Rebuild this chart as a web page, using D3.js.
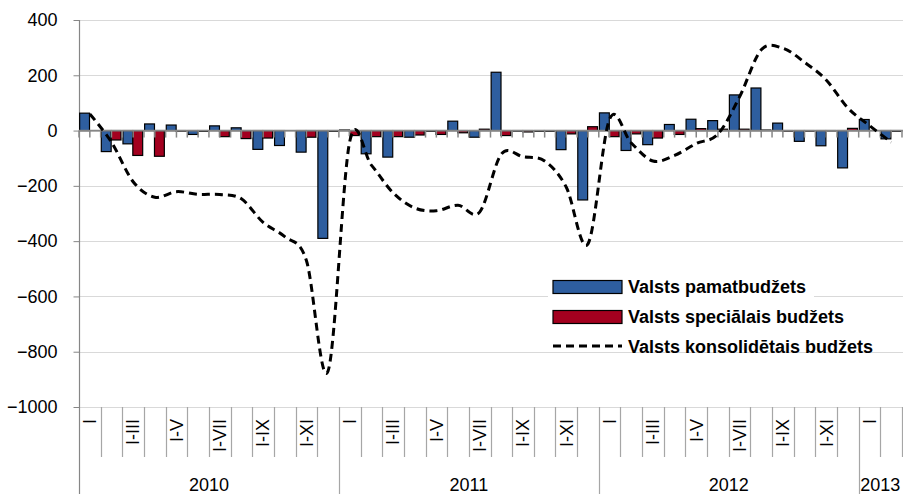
<!DOCTYPE html>
<html>
<head>
<meta charset="utf-8">
<script src="https://cdn.jsdelivr.net/npm/d3@7"></script>
<style>
  html, body { margin: 0; padding: 0; background: #fff; }
  svg { display: block; font-family: "Liberation Sans", Arial, sans-serif; }
</style>
</head>
<body>
<svg></svg>
<script>
//* Budget balance by period, 2010 - 2013 (million LVL)
const yearLabels = ["2010", "2011", "2012", "2013"];
const yearMonths = [12, 12, 12, 2];
const monthLabels = ["I", "", "I-III", "", "I-V", "", "I-VII", "", "I-IX", "", "I-XI", ""];

const seriesNames = ["Valsts pamatbudžets", "Valsts speciālais budžets", "Valsts konsolidētais budžets"];

const basicBudget = [
  63, -76, -48, 24, 20, -14, 17, 10, -68, -54, -78, -390,
  2, -84, -96, -24, -3, 34, -24, 211, -2, -3, -69, -251,
  64, -72, -51, 22, 41, 36, 129, 154, 27, -39, -55, -135,
  40, -30
];

const specialBudget = [
  0, -34, -90, -93, -2, -3, -22, -29, -27, 0, -24, -3,
  -18, -22, -22, -16, -14, -8, 5, -18, -5, -3, -12, 14,
  -22, -12, -27, -14, 7, 5, 5, 2, -2, -2, -1, 8,
  0, -3
];

const consolidatedBudget = [
  60, -42, -185, -241, -221, -231, -231, -247, -332, -384, -470, -870,
  -40, -125, -225, -280, -290, -270, -295, -85, -95, -110, -205, -410,
  42, -45, -110, -90, -47, -13, 122, 292, 298, 247, 183, 82,
  18, -42
];

const yTicks = [400, 200, 0, -200, -400, -600, -800, -1000];

const width = 903;
const height = 494;
const colors = ["#2E5E9F", "#A3001F"];

// build the period list (one entry per month)
const periods = [];
yearLabels.forEach((y, yi) => {
  for (let m = 0; m < yearMonths[yi]; m++) {
    periods.push({ year: y, month: m, label: monthLabels[m] });
  }
});
const idx = periods.map((d, i) => i);

const svg = d3.select("svg")
  .attr("width", width)
  .attr("height", height);

const x = d3.scaleBand()
  .domain(idx)
  .range([79, 902]);

const xs = d3.scaleBand()
  .domain([0, 1])
  .range([x.bandwidth() * 0.03, x.bandwidth() * 0.94]);

const y = d3.scaleLinear()
  .domain([-1000, 400])
  .range([407, 20]);

//* Gridlines
svg.append("g")
  .selectAll("line")
  .data(yTicks)
  .join("line")
    .attr("x1", 79)
    .attr("x2", width)
    .attr("y1", d => Math.round(y(d)) + 0.5)
    .attr("y2", d => Math.round(y(d)) + 0.5)
    .attr("stroke", "#d9d9d9")
    .attr("stroke-width", 1.2);

//* Y axis
const yAxis = svg.append("g")
  .attr("transform", "translate(79.5,0)")
  .call(d3.axisLeft(y).tickValues(yTicks).tickSize(6).tickPadding(16).tickFormat(d3.format("d")));
yAxis.select(".domain").remove();
yAxis.selectAll(".tick line").attr("stroke", "#868686");
yAxis.selectAll("text")
  .attr("font-size", 18)
  .attr("fill", "#000")
  .attr("font-family", "Liberation Sans, Arial, sans-serif");
svg.append("line")
  .attr("x1", 79.5).attr("x2", 79.5)
  .attr("y1", 20).attr("y2", height)
  .attr("stroke", "#868686")
  .attr("stroke-width", 1.2);

//* Bars
const barData = [basicBudget, specialBudget];
barData.forEach((vals, s) => {
  svg.append("g")
    .selectAll("rect")
    .data(vals)
    .join("rect")
      .attr("x", (d, i) => x(i) + xs(s))
      .attr("width", xs.bandwidth())
      .attr("y", d => y(Math.max(0, d)))
      .attr("height", d => Math.abs(y(d) - y(0)))
      .attr("fill", colors[s])
      .attr("stroke", "#000")
      .attr("stroke-width", 1.2);
});

//* Zero axis with ticks at boundaries and centres
const halfTicks = d3.range(0, periods.length * 2 + 1).map(k => 79 + k * x.step() / 2);
svg.append("g")
  .selectAll("line")
  .data(halfTicks)
  .join("line")
    .attr("x1", d => d).attr("x2", d => d)
    .attr("y1", y(0)).attr("y2", y(0) + 7)
    .attr("stroke", "#868686")
    .attr("stroke-width", 1.5);
svg.append("line")
  .attr("x1", 79).attr("x2", width)
  .attr("y1", y(0)).attr("y2", y(0))
  .attr("stroke", "#868686")
  .attr("stroke-width", 1.8);

//* Consolidated line (smoothed, dashed)
const line = d3.line()
  .x((d, i) => x(i) + x.bandwidth() / 2)
  .y(d => y(d))
  .curve(d3.curveCardinal.tension(0));

svg.append("path")
  .datum(consolidatedBudget)
  .attr("d", line)
  .attr("fill", "none")
  .attr("stroke", "#000")
  .attr("stroke-width", 3)
  .attr("stroke-dasharray", "8,5");

//* Category labels: months and years
const catTop = 407;
svg.append("g")
  .selectAll("line")
  .data(d3.range(1, periods.length + 1))
  .join("line")
    .attr("x1", i => Math.round(79 + i * x.step()) + 0.5)
    .attr("x2", i => Math.round(79 + i * x.step()) + 0.5)
    .attr("y1", catTop)
    .attr("y2", i => (i < periods.length && periods[i].month === 0) ? height : 457)
    .attr("stroke", "#a6a6a6")
    .attr("stroke-width", 1.2);

svg.append("g")
  .selectAll("text")
  .data(periods.filter(p => p.label !== ""))
  .join("text")
    .attr("transform", d => `translate(${x(periods.indexOf(d)) + x.bandwidth() / 2}, 419) rotate(-90)`)
    .attr("dy", "0.35em")
    .attr("text-anchor", "end")
    .attr("font-size", 18)
    .text(d => d.label);

let start = 0;
yearLabels.forEach((yl, yi) => {
  const x0 = 79 + start * x.step();
  const x1 = 79 + (start + yearMonths[yi]) * x.step();
  svg.append("text")
    .attr("x", (x0 + x1) / 2)
    .attr("y", 491)
    .attr("text-anchor", "middle")
    .attr("font-size", 18)
    .text(yl);
  start += yearMonths[yi];
});

//* Legend
const legend = svg.append("g");
legend.append("rect")
  .attr("x", 548).attr("y", 273)
  .attr("width", 266).attr("height", 76)
  .attr("fill", "#fff");

const legendRows = [287, 317, 347];
seriesNames.forEach((name, i) => {
  if (i < 2) {
    legend.append("rect")
      .attr("x", 553).attr("y", legendRows[i] - 6.5)
      .attr("width", 69).attr("height", 13)
      .attr("fill", colors[i])
      .attr("stroke", "#000")
      .attr("stroke-width", 1.2);
  } else {
    legend.append("line")
      .attr("x1", 553).attr("x2", 622)
      .attr("y1", legendRows[i] - 1).attr("y2", legendRows[i] - 1)
      .attr("stroke", "#000")
      .attr("stroke-width", 3)
      .attr("stroke-dasharray", "8,5");
  }
  legend.append("text")
    .attr("x", 628)
    .attr("y", legendRows[i])
    .attr("dy", "0.35em")
    .attr("font-size", 18)
    .attr("font-weight", "bold")
    .text(name);
});
</script>
</body>
</html>
